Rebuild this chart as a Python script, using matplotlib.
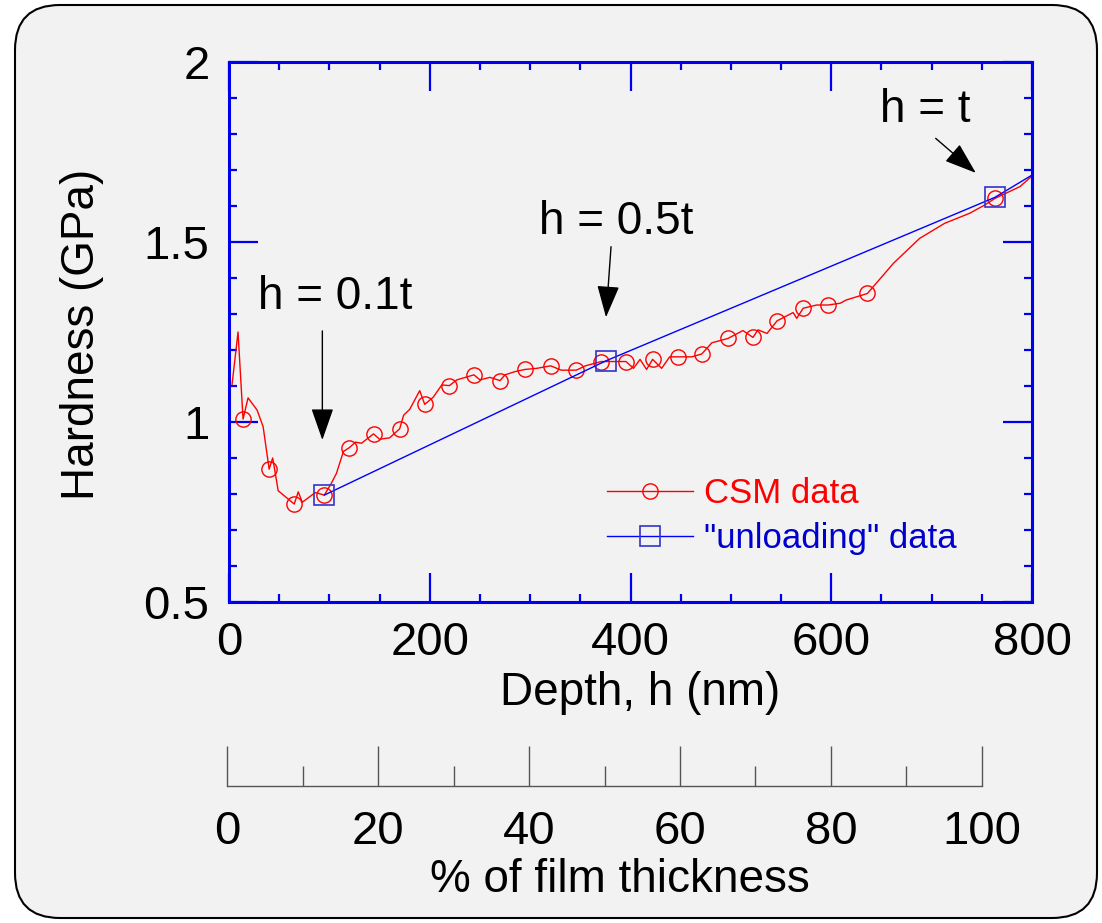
import matplotlib
matplotlib.use('Agg')
import matplotlib.pyplot as plt
from matplotlib.patches import FancyBboxPatch
from matplotlib.ticker import MultipleLocator

plt.rcParams['font.family'] = ['Liberation Sans', 'DejaVu Sans']

# CSM 연속 측정 데이터 (깊이 nm, 경도 GPa)
csm_depth = [3, 9, 14, 19, 28, 34, 40, 43.5, 45, 49, 65, 69, 73, 86, 95, 102, 107, 114,
             120, 126, 132, 144, 150, 160, 170, 174, 180, 190, 195, 203.5, 212, 219.5,
             227, 244, 250, 260, 270, 275, 285, 295, 306.5, 320.5, 331, 346, 355, 371,
             383, 395.5, 403, 409.5, 416, 422, 431, 439, 447.6, 461, 471, 481, 497, 512,
             522, 527, 536, 546, 562, 565.6, 572, 585.5, 597, 609, 615, 636, 662, 688,
             713, 738, 753, 763, 788, 799]
csm_hard = [1.103, 1.25, 1.008, 1.067, 1.033, 0.987, 0.869, 0.90, 0.876, 0.809, 0.772,
            0.806, 0.777, 0.804, 0.797, 0.830, 0.857, 0.918, 0.929, 0.944, 0.941, 0.967,
            0.952, 0.956, 0.981, 1.019, 1.035, 1.087, 1.049, 1.069, 1.103, 1.101, 1.117,
            1.131, 1.117, 1.124, 1.115, 1.131, 1.14, 1.146, 1.149, 1.156, 1.144, 1.144,
            1.156, 1.168, 1.168, 1.168, 1.149, 1.174, 1.146, 1.174, 1.149, 1.181, 1.181,
            1.181, 1.189, 1.22, 1.232, 1.254, 1.235, 1.256, 1.246, 1.281, 1.304, 1.288,
            1.316, 1.325, 1.325, 1.33, 1.339, 1.357, 1.441, 1.51, 1.552, 1.580, 1.603,
            1.621, 1.654, 1.681]
# 원 마커가 찍힌 점의 깊이
csm_marked = [14, 40, 65, 95, 120, 144, 170, 195, 219.5, 244, 270, 295, 320.5, 346, 371,
              395.5, 422, 447.6, 471, 497, 522, 546, 572, 597, 636, 763]

# 언로딩 데이터 (마지막 점은 축 밖으로 이어지는 선)
unl_depth = [95, 375.6, 763, 800]
unl_hard = [0.797, 1.170, 1.624, 1.686]

x_ticks = [0, 200, 400, 600, 800]
x_tick_labels = ['0', '200', '400', '600', '800']
y_ticks = [0.5, 1.0, 1.5, 2.0]
y_tick_labels = ['0.5', '1', '1.5', '2']
pct_ticks = [0, 20, 40, 60, 80, 100]
pct_tick_labels = ['0', '20', '40', '60', '80', '100']

BLUE = '#0000ee'

fig = plt.figure(figsize=(11.02, 9.23), dpi=100, facecolor='white')

# 둥근 모서리 배경 상자
box = FancyBboxPatch((0.15, 0.05), 10.82, 9.13, boxstyle='round,pad=0,rounding_size=0.45',
                     transform=fig.dpi_scale_trans, facecolor='#f2f2f2',
                     edgecolor='black', linewidth=1.5, zorder=-10)
fig.patches.append(box)

ax = fig.add_axes([0.2078, 0.3478, 0.7287, 0.585])
ax.set_facecolor('none')

mark_idx = [csm_depth.index(d) for d in csm_marked]
ax.plot(csm_depth, csm_hard, '-', color='red', linewidth=1.0, marker='o',
        markersize=11, markerfacecolor='none', markeredgewidth=1.0,
        markevery=mark_idx, label='CSM data')
ax.plot(unl_depth, unl_hard, '-', color='#0000ff', linewidth=1.0, marker='s',
        markersize=14, markerfacecolor='none', markeredgecolor='#3333cc',
        markeredgewidth=1.2, markevery=[0, 1, 2], label='"unloading" data')

ax.set_xlim(0, 800)
ax.set_ylim(0.5, 2.0)
ax.set_xticks(x_ticks)
ax.set_xticklabels(x_tick_labels)
ax.set_yticks(y_ticks)
ax.set_yticklabels(y_tick_labels)
ax.xaxis.set_minor_locator(MultipleLocator(50))
ax.yaxis.set_minor_locator(MultipleLocator(0.1))
ax.tick_params(which='both', direction='in', top=True, right=True, color=BLUE,
               labelsize=34, pad=14)
ax.tick_params(which='major', length=21, width=1.6)
ax.tick_params(which='minor', length=6, width=1.6)
for s in ax.spines.values():
    s.set_color(BLUE)
    s.set_linewidth(2.2)

ax.set_xlabel('Depth, h (nm)', fontsize=33)
ax.xaxis.set_label_coords(0.512, -0.128)
ax.set_ylabel('Hardness (GPa)', fontsize=33)
ax.yaxis.set_label_coords(-0.156, 0.495)

# 화살표와 주석
arrow = dict(arrowstyle='-|>,head_length=1.0,head_width=0.35', color='black',
             linewidth=1.0, shrinkA=0, shrinkB=0, mutation_scale=20)
ax.text(105.6, 1.346, 'h = 0.1t', fontsize=33, ha='center', va='center')
ax.annotate('', xy=(93, 0.95), xytext=(93, 1.253), arrowprops=arrow)
ax.text(386, 1.555, 'h = 0.5t', fontsize=33, ha='center', va='center')
ax.annotate('', xy=(375.6, 1.291), xytext=(380.6, 1.487), arrowprops=arrow)
ax.text(693.4, 1.867, 'h = t', fontsize=33, ha='center', va='center')
ax.annotate('', xy=(744, 1.692), xytext=(704, 1.788), arrowprops=arrow)

leg = ax.legend(loc='center left', bbox_to_anchor=(0.4707, 0.159), frameon=False,
                fontsize=25, borderaxespad=0, borderpad=0, handlelength=2.48,
                handletextpad=0.3, labelspacing=0.33, labelcolor=['red', '#0000cc'])

# 아래쪽 필름 두께 % 축
ax2 = fig.add_axes([0.2060, 0.1484, 0.6851, 0.05])
ax2.set_facecolor('none')
for k in ['top', 'left', 'right']:
    ax2.spines[k].set_visible(False)
ax2.spines['bottom'].set_color('#555555')
ax2.spines['bottom'].set_linewidth(1.0)
ax2.set_xlim(0, 100)
ax2.set_yticks([])
ax2.set_xticks(pct_ticks)
ax2.set_xticklabels(pct_tick_labels)
ax2.xaxis.set_minor_locator(MultipleLocator(10))
ax2.tick_params(which='both', direction='in', color='#555555', width=1.0,
                labelsize=34, pad=17)
ax2.tick_params(which='major', length=29)
ax2.tick_params(which='minor', length=14.4)
ax2.set_xlabel('% of film thickness', fontsize=33)
ax2.xaxis.set_label_coords(0.52, -1.55)

fig.savefig('out.png', dpi=100, facecolor='white')
